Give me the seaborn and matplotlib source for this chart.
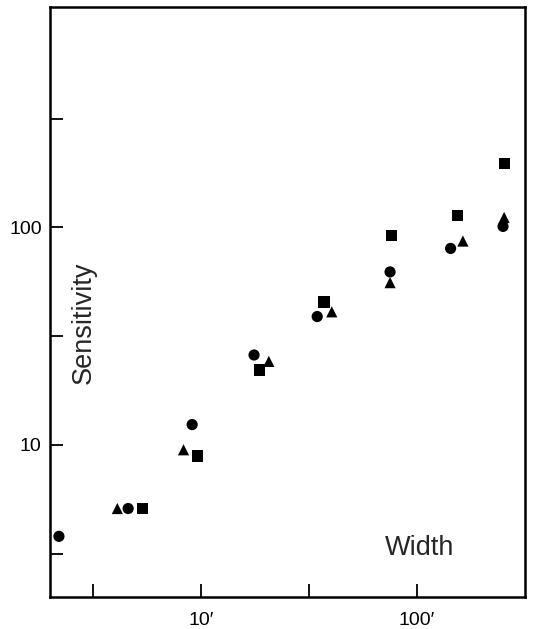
import pandas as pd
import matplotlib
matplotlib.use("Agg")
import matplotlib.pyplot as plt
import numpy as np
import seaborn as sns

# values (log-log)
circle_w = [2.2, 4.6, 9.1, 17.6, 34.5, 75, 143, 250]
circle_s = [3.8, 5.1, 12.4, 25.9, 38.9, 62.4, 80, 101]
triangle_w = [4.1, 8.3, 20.6, 40.3, 75, 163, 253]
triangle_s = [5.1, 9.5, 24.2, 40.9, 55.7, 86.5, 111]
square_w = [5.35, 9.6, 18.7, 37.1, 76, 154, 253]
square_s = [5.1, 8.9, 22.1, 45.4, 92, 113.5, 197]

x_ticks = [10 ** 0.5, 10, 10 ** 1.5, 100]
x_labels = ["", "10\u2032", "", "100\u2032"]
y_ticks = [10 ** 0.5, 10, 10 ** 1.5, 100, 10 ** 2.5]
y_labels = ["", "10", "", "100", ""]

data = pd.DataFrame({
    "width": circle_w + triangle_w + square_w,
    "sens": circle_s + triangle_s + square_s,
    "kind": ["circle"] * len(circle_w) + ["triangle"] * len(triangle_w) + ["square"] * len(square_w),
})

sns.set_style("ticks")
plt.rcParams["font.family"] = ["Liberation Sans", "DejaVu Sans"]

fig = plt.figure(figsize=(5.33, 6.29), dpi=100)
ax = fig.add_axes([0.0938, 0.0509, 0.8912, 0.938])

sns.scatterplot(data=data, x="width", y="sens", style="kind",
                markers={"circle": "o", "triangle": "^", "square": "s"},
                color="black", s=65, edgecolor="none", legend=False, ax=ax)

ax.set_xscale("log")
ax.set_yscale("log")
ax.set_xlim(2, 316)
ax.set_ylim(2, 1030)
ax.minorticks_off()
ax.set_xticks(x_ticks)
ax.set_xticklabels(x_labels)
ax.set_yticks(y_ticks)
ax.set_yticklabels(y_labels)
ax.tick_params(direction="in", length=9.5, width=1.3, labelsize=14, colors="black")
ax.tick_params(axis="x", pad=11)
ax.tick_params(axis="y", pad=6)
for sp in ax.spines.values():
    sp.set_linewidth(1.8)
    sp.set_color("black")

ax.set_xlabel("")
ax.set_ylabel("")
ax.text(0.072, 0.464, "Sensitivity", rotation=90, fontsize=19.5,
        ha="center", va="center", transform=ax.transAxes)
ax.text(0.777, 0.083, "Width", fontsize=19.5, ha="center", va="center",
        transform=ax.transAxes)

fig.savefig("out.png", dpi=100)
